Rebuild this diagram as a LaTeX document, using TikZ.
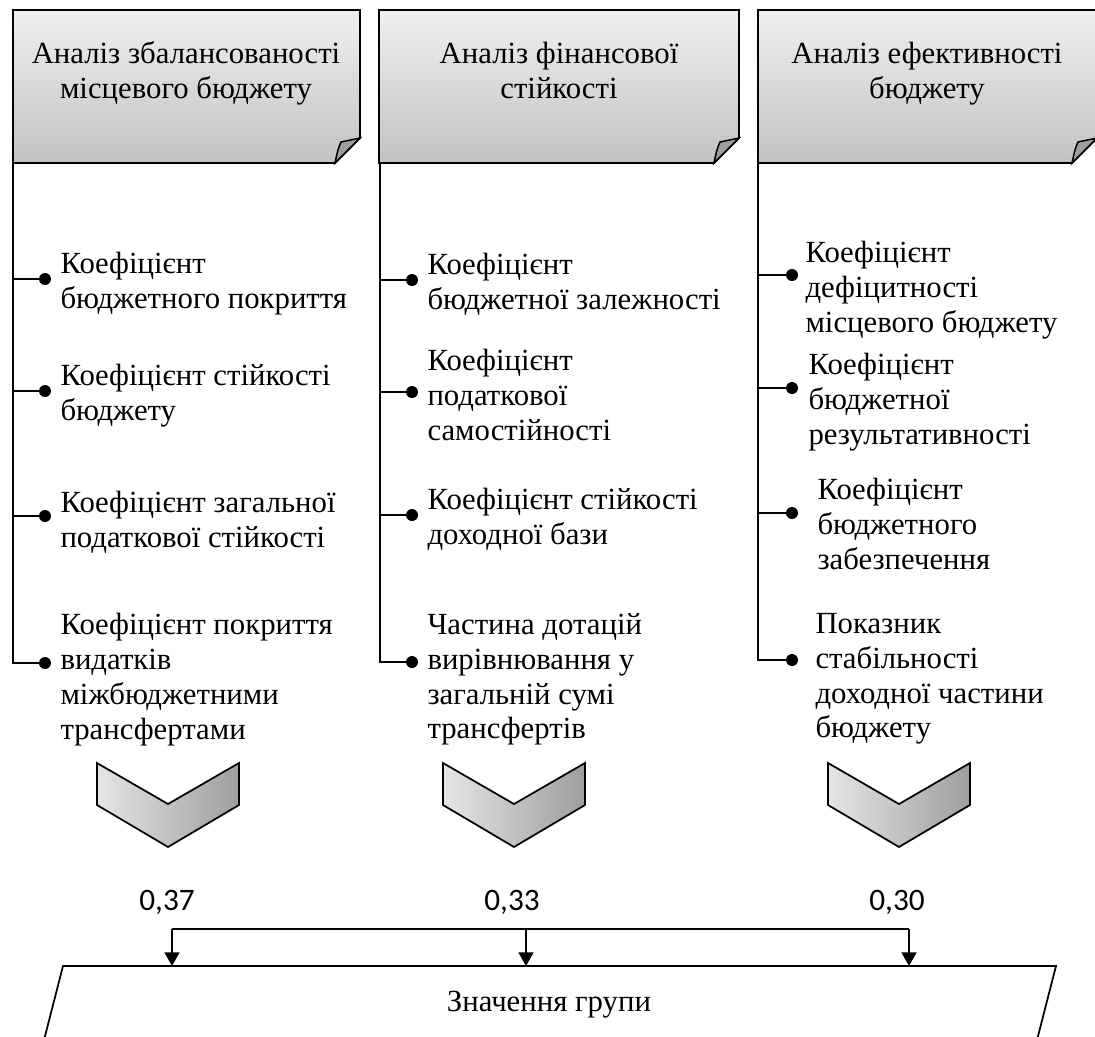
\documentclass[tikz,border=0pt]{standalone}
\usepackage{fontspec}
\setmainfont{Liberation Serif}
\newfontfamily\numfont{Carlito}
\usetikzlibrary{calc, arrows.meta}

\begin{document}
\begin{tikzpicture}[x=0.4pt, y=-0.4pt,
    HeadBox/.style={draw, line width=0.7pt, top color=black!6, bottom color=black!24},
    Flap/.style={draw, line width=0.6pt, fill=black!38},
    Head/.style={anchor=north, align=center, inner sep=0pt,
                font=\fontsize{12.3}{13.9}\selectfont},
    Item/.style={anchor=north west, align=left, inner sep=0pt,
                font=\fontsize{12.3}{13.9}\selectfont},
    Dot/.style={circle, fill, inner sep=0pt, minimum size=4.8pt},
    Chev/.style={draw, line width=0.7pt, left color=black!10, right color=black!38},
    Weight/.style={inner sep=0pt, font=\numfont\fontsize{12.5}{14}\selectfont},
    Arr/.style={-{Triangle[width=6pt, length=5.5pt]}},
  ]
\clip (0,0) rectangle (1095,1036);

% header boxes with folded corner
\foreach \l/\r in {13/360, 379/739, 758/1097} {
  \shadedraw[HeadBox] (\l,10) -- (\r,10) -- (\r,138) -- ({\r-25},163) -- (\l,163) -- cycle;
  \filldraw[Flap] (\r,138) -- ({\r-19},142) .. controls ({\r-22},149) .. ({\r-25},163) -- cycle;
}
\node[Head] (h1) at (186,39) {\strut Аналіз збалансованості\\місцевого бюджету\strut};
\node[Head] (h2) at (559,39) {\strut Аналіз фінансової\\стійкості\strut};
\node[Head] (h3) at (927,39) {\strut Аналіз ефективності\\бюджету\strut};

\coordinate (t1) at (13,163);
\coordinate (t2) at (380,163);
\coordinate (t3) at (758,163);

% column 1
\node[Dot] (d11) at (45,279) {};
\node[Dot] (d12) at (45,391) {};
\node[Dot] (d13) at (45,516) {};
\node[Dot] (d14) at (45,663) {};
\node[Item] (k11) at (60,252) {Коефіцієнт\\бюджетного покриття};
\node[Item] (k12) at (60,364) {Коефіцієнт стійкості\\бюджету};
\node[Item] (k13) at (60,491) {Коефіцієнт загальної\\податкової стійкості};
\node[Item] (k14) at (60,613) {Коефіцієнт покриття\\видатків\\міжбюджетними\\трансфертами};

% column 2
\node[Dot] (d21) at (412,280) {};
\node[Dot] (d22) at (412,392) {};
\node[Dot] (d23) at (412,515) {};
\node[Dot] (d24) at (412,662) {};
\node[Item] (k21) at (427,253) {Коефіцієнт\\бюджетної залежності};
\node[Item] (k22) at (427,349) {Коефіцієнт\\податкової\\самостійності};
\node[Item] (k23) at (427,488) {Коефіцієнт стійкості\\доходної бази};
\node[Item] (k24) at (427,613) {Частина дотацій\\вирівнювання у\\загальній сумі\\трансфертів};

% column 3
\node[Dot] (d31) at (792,275) {};
\node[Dot] (d32) at (792,388) {};
\node[Dot] (d33) at (792,513) {};
\node[Dot] (d34) at (792,660) {};
\node[Item] (k31) at (805,241) {Коефіцієнт\\дефіцитності\\місцевого бюджету};
\node[Item] (k32) at (808,353) {Коефіцієнт\\бюджетної\\результативності};
\node[Item] (k33) at (817,478) {Коефіцієнт\\бюджетного\\забезпечення};
\node[Item] (k34) at (815,613) {Показник\\стабільності\\доходної частини\\бюджету};

\foreach \c in {1,2,3} {
  \draw[line width=0.7pt] (t\c) |- (d\c4);
  \foreach \k in {1,2,3}
    \draw[line width=0.7pt] (t\c |- d\c\k) -- (d\c\k);
}

% chevrons
\foreach \m in {168, 514, 899}
  \shadedraw[Chev] ({\m-71},763) -- (\m,804) -- ({\m+71},763) -- ({\m+71},805)
    -- (\m,847) -- ({\m-71},805) -- cycle;

\node[Weight] (w1) at (167,902) {0,37};
\node[Weight] (w2) at (512,902) {0,33};
\node[Weight] (w3) at (897,902) {0,30};

\coordinate (b1) at (172,929);
\coordinate (b2) at (526,929);
\coordinate (b3) at (909,929);
\draw[line width=0.7pt] (b1) -- (b3);

\draw[line width=0.7pt, fill=white] (63,966) coordinate (p1) -- (1056,966) coordinate (p2)
  -- (1036,1044) -- (43,1044) -- cycle;
\node[Item, anchor=center] (grp) at (549,1005) {Значення групи};

\foreach \b in {b1,b2,b3}
  \draw[Arr, line width=0.7pt] (\b) -- (\b |- p1);%
\end{tikzpicture}
\end{document}
